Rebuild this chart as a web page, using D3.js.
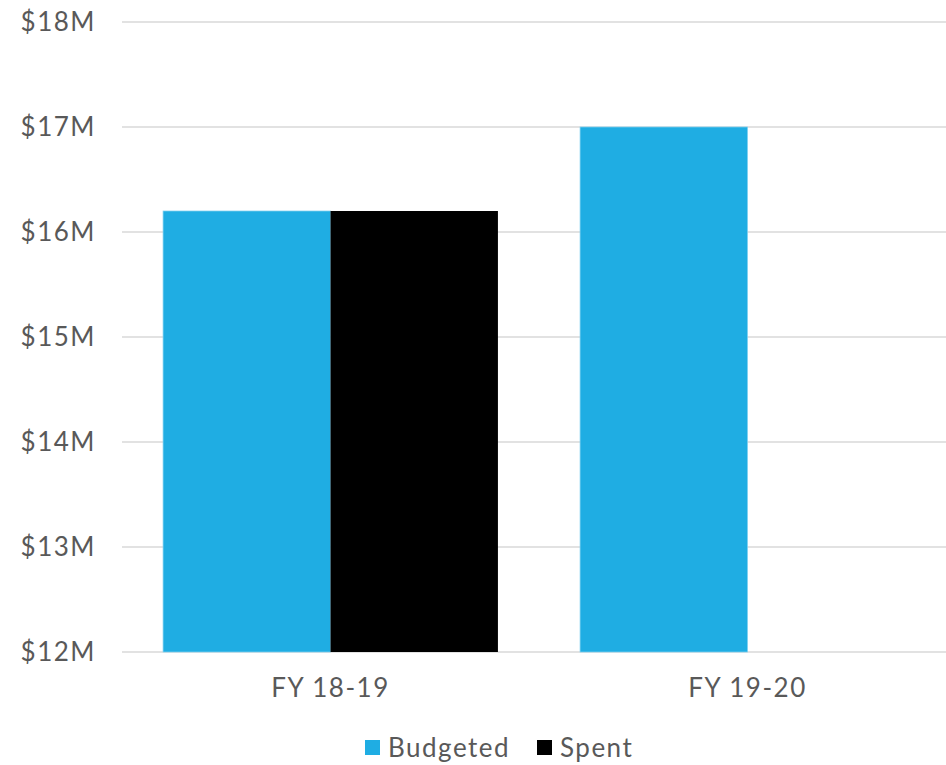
<!DOCTYPE html>
<html>
<head>
<meta charset="utf-8">
<script src="https://cdn.jsdelivr.net/npm/d3@7"></script>
<style>
  body { margin: 0; background: #fff; }
  text { font-family: Lato, "Open Sans", sans-serif; fill: #595959; letter-spacing: 1.5px; }
</style>
</head>
<body>
<div id="chart"></div>
<script>
const categories = ['FY 18-19', 'FY 19-20'];
const seriesNames = ['Budgeted', 'Spent'];
const budgeted = [16.2, 17.0];
const spent = [16.2, null];
const yTicks = [12, 13, 14, 15, 16, 17, 18];

const colors = { Budgeted: '#1FADE3', Spent: '#000000' };

const margin = { top: 22, right: 0, bottom: 113, left: 122 };
const totalW = 946, totalH = 765;
const width = 834;
const height = totalH - margin.top - margin.bottom;

const svg = d3.select('#chart')
    .append('svg')
    .attr('width', totalW)
    .attr('height', totalH);

const g = svg.append('g')
    .attr('transform', `translate(${margin.left}, ${margin.top})`);

const x0 = d3.scaleBand()
    .domain(categories)
    .range([0, width])
    .paddingInner(0.197)
    .paddingOuter(0.0985);

const x1 = d3.scaleBand()
    .domain(seriesNames)
    .range([0, x0.bandwidth()]);

const y = d3.scaleLinear()
    .domain([12, 18])
    .range([height, 0]);

// gridlines
g.selectAll('.grid')
    .data(yTicks)
    .enter()
    .append('line')
    .attr('class', 'grid')
    .attr('x1', 0)
    .attr('x2', totalW - margin.left)
    .attr('y1', d => y(d))
    .attr('y2', d => y(d))
    .attr('stroke', '#d9d9d9')
    .attr('stroke-width', 1.5);

// y labels
g.selectAll('.ylab')
    .data(yTicks)
    .enter()
    .append('text')
    .attr('class', 'ylab')
    .attr('x', -26)
    .attr('y', d => y(d))
    .attr('dy', '0.35em')
    .attr('text-anchor', 'end')
    .style('font-size', '26px')
    .text(d => `$${d}M`);

const rows = categories.map((c, i) => ({
    category: c,
    values: [
        { name: 'Budgeted', value: budgeted[i] },
        { name: 'Spent', value: spent[i] }
    ].filter(v => v.value != null)
}));

const groups = g.selectAll('.group')
    .data(rows)
    .enter()
    .append('g')
    .attr('class', 'group')
    .attr('transform', d => `translate(${x0(d.category)}, 0)`);

groups.selectAll('rect')
    .data(d => d.values)
    .enter()
    .append('rect')
    .attr('x', d => x1(d.name))
    .attr('y', d => y(d.value))
    .attr('width', x1.bandwidth())
    .attr('height', d => y(12) - y(d.value))
    .attr('fill', d => colors[d.name])
    .attr('stroke', d => d.name === 'Budgeted' ? '#7fd0f0' : 'none')
    .attr('stroke-width', 0.75);

// x labels
g.selectAll('.xlab')
    .data(categories)
    .enter()
    .append('text')
    .attr('class', 'xlab')
    .attr('x', d => x0(d) + x0.bandwidth() / 2)
    .attr('y', height + 45)
    .attr('text-anchor', 'middle')
    .style('font-size', '26px')
    .text(d => d);

// legend
const legendItems = [
    { name: 'Budgeted', x: 365 },
    { name: 'Spent', x: 537 }
];
const legend = svg.append('g').attr('class', 'legend');
legendItems.forEach(item => {
    legend.append('rect')
        .attr('x', item.x)
        .attr('y', 740)
        .attr('width', 15)
        .attr('height', 15)
        .attr('fill', colors[item.name]);
    legend.append('text')
        .attr('x', item.x + 23)
        .attr('y', 748)
        .attr('dy', '0.35em')
        .style('font-size', '26px')
        .text(item.name);
});
</script>
</body>
</html>
